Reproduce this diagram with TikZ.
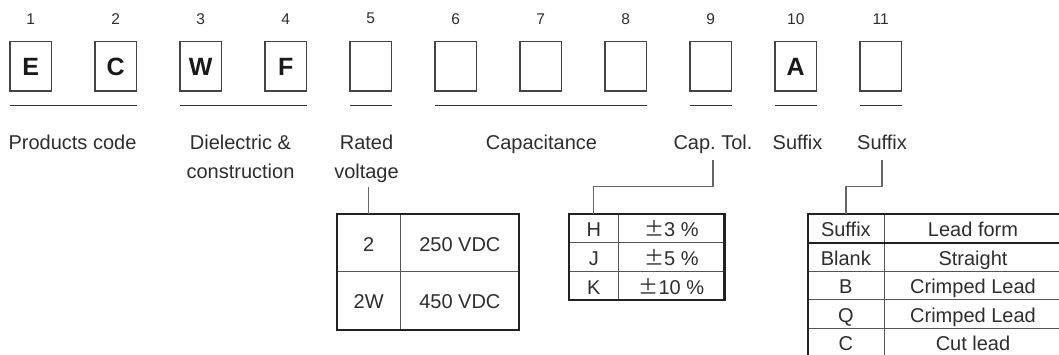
\documentclass[tikz,border=0pt]{standalone}
\usepackage{fontspec}
\setmainfont{Liberation Sans}
\newfontfamily\cjkfont[RawFeature=+fwid]{Noto Sans CJK JP}
\definecolor{txt}{HTML}{2E2E2E}
\definecolor{boxc}{HTML}{444444}
\definecolor{linec}{HTML}{333333}
\definecolor{connc}{HTML}{666666}
\definecolor{cellc}{HTML}{555555}
\definecolor{outc}{HTML}{222222}
\begin{document}
\begin{tikzpicture}[x=1pt,y=-1pt,
  digitbox/.style={draw=boxc, line width=1.3pt, minimum width=41.5pt, minimum height=49.5pt,
    inner sep=0pt, outer sep=0pt, font=\fontsize{25}{30}\selectfont\bfseries, text=black!90,
    text height=18pt, text depth=0pt},
  numlab/.style={font=\fontsize{15.5}{18}\selectfont, text=txt, inner sep=0pt},
  lab/.style={font=\fontsize{20}{24}\selectfont\frenchspacing, text=txt, inner sep=0pt, anchor=base},
  uline/.style={draw=linec, line width=1pt},
  conn/.style={draw=connc, line width=1.3pt},
  cell/.style={draw=cellc, line width=1pt, inner sep=0pt, outer sep=0pt,
    font=\fontsize{20}{24}\selectfont, text=txt, text height=16.5pt, text depth=0pt,
    anchor=north west},
  outer/.style={draw=outc, line width=2.2pt}]
\useasboundingbox (0,0) rectangle (1059,354);
\fill[white] (0,0) rectangle (1059,354);

% code boxes and position numbers
\foreach \k/\t in {1/E,2/C,3/W,4/F,5/{},6/{},7/{},8/{},9/{},10/A,11/{}}{
  \node[digitbox] (b\k) at ({30.75+85*(\k-1)},66.25) {\t};
  \node[numlab] (n\k) at ({30.75+85*(\k-1)},18.7) {\k};
}

% underlines
\draw[uline] ([yshift=-14.3pt]b1.south west) -- ([yshift=-14.3pt]b2.south east);
\draw[uline] ([yshift=-14.3pt]b3.south west) -- ([yshift=-14.3pt]b4.south east);
\draw[uline] ([yshift=-14.3pt]b5.south west) -- ([yshift=-14.3pt]b5.south east);
\draw[uline] ([yshift=-14.3pt]b6.south west) -- ([yshift=-14.3pt]b8.south east);
\draw[uline] ([yshift=-14.3pt]b9.south west) -- ([yshift=-14.3pt]b9.south east);
\draw[uline] ([yshift=-14.3pt]b10.south west) -- ([yshift=-14.3pt]b10.south east);
\draw[uline] ([yshift=-14.3pt]b11.south west) -- ([yshift=-14.3pt]b11.south east);

% labels
\node[lab] (l12) at (72.5,149) {Products code};
\node[lab] (l34) at (240.5,149) {Dielectric \&};
\node[lab] (l34b) at (240.5,178) {construction};
\node[lab] (l5) at (366.5,149) {Rated};
\node[lab] (l5b) at (366.5,178) {voltage};
\node[lab] (l68) at (541.5,149) {Capacitance};
\node[lab] (l9) at (713,149) {Cap.\ Tol.};
\node[lab] (l10) at (797.5,149) {Suffix};
\node[lab] (l11) at (882,149) {Suffix};

% rated voltage table
\node[cell, minimum width=64pt, minimum height=57.8pt] (v11) at (336.7,214) {2};
\node[cell, minimum width=118.3pt, minimum height=57.8pt] (v12) at (v11.north east) {250 VDC};
\node[cell, minimum width=64pt, minimum height=57.8pt] (v21) at (v11.south west) {2W};
\node[cell, minimum width=118.3pt, minimum height=57.8pt] (v22) at (v21.north east) {450 VDC};
\draw[outer] (v11.north west) rectangle (v22.south east);
\coordinate (vc) at ([yshift=-8.7pt]l5b.base);
\draw[conn] (v11.north) -- (v11.north |- vc);

% tolerance table
\node[cell, minimum width=49pt, minimum height=28.67pt] (t11) at (569.3,214.3) {H};
\node[cell, minimum width=106.2pt, minimum height=28.67pt] (t12) at (t11.north east) {{\cjkfont ±}3 \%};
\node[cell, minimum width=49pt, minimum height=28.67pt] (t21) at (t11.south west) {J};
\node[cell, minimum width=106.2pt, minimum height=28.67pt] (t22) at (t21.north east) {{\cjkfont ±}5 \%};
\node[cell, minimum width=49pt, minimum height=28.67pt] (t31) at (t21.south west) {K};
\node[cell, minimum width=106.2pt, minimum height=28.67pt] (t32) at (t31.north east) {{\cjkfont ±}10 \%};
\draw[outer] (t11.north west) rectangle (t32.south east);
\coordinate (tc) at ([yshift=-10.5pt]l9.base);
\draw[conn] (t11.north) -- ++(0,-27.6) -| (tc);

% suffix table
\node[cell, minimum width=76.3pt, minimum height=28.45pt] (s11) at (807.7,214.3) {Suffix};
\node[cell, minimum width=178pt, minimum height=28.45pt] (s12) at (s11.north east) {Lead form};
\node[cell, minimum width=76.3pt, minimum height=28.45pt] (s21) at (s11.south west) {Blank};
\node[cell, minimum width=178pt, minimum height=28.45pt] (s22) at (s21.north east) {Straight};
\node[cell, minimum width=76.3pt, minimum height=28.45pt] (s31) at (s21.south west) {B};
\node[cell, minimum width=178pt, minimum height=28.45pt] (s32) at (s31.north east) {Crimped Lead};
\node[cell, minimum width=76.3pt, minimum height=28.45pt] (s41) at (s31.south west) {Q};
\node[cell, minimum width=178pt, minimum height=28.45pt] (s42) at (s41.north east) {Crimped Lead};
\node[cell, minimum width=76.3pt, minimum height=28.45pt] (s51) at (s41.south west) {C};
\node[cell, minimum width=178pt, minimum height=28.45pt] (s52) at (s51.north east) {Cut lead};
\draw[outer] (s11.north west) rectangle (s52.south east);
\draw[draw=outc, line width=2pt] (s11.south west) -- (s12.south east);
\coordinate (sc) at ([yshift=-10.5pt]l11.base);
\draw[conn] (s11.north) -- ++(0,-27.6) -| (sc);
\end{tikzpicture}
\end{document}
